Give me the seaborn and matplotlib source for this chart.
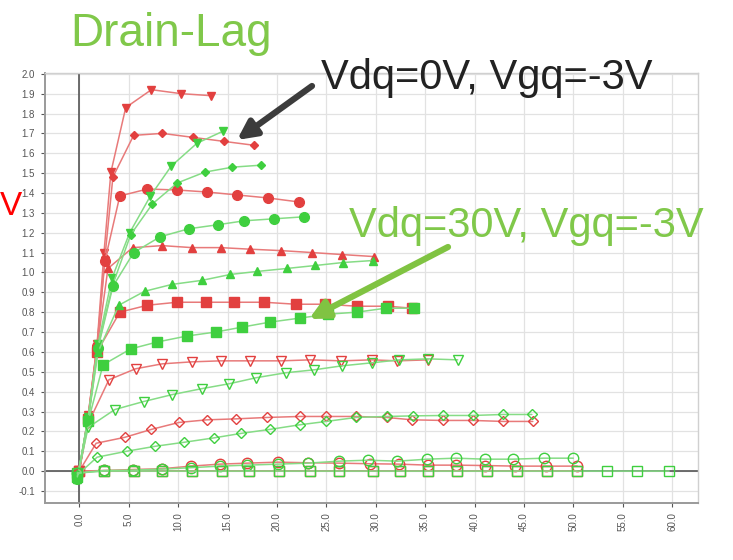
import matplotlib
matplotlib.use("Agg")
import matplotlib.pyplot as plt
import seaborn as sns

# ---- Vdq=0V, Vgq=-3V curves (red), one per gate step ----
red_vdown_x = [0.0, 0.9, 1.8, 2.5, 3.2, 4.7, 7.3, 10.3, 13.3]
red_vdown_y = [0.0, 0.28, 0.64, 1.10, 1.505, 1.83, 1.92, 1.90, 1.89]
red_diam_x = [0.0, 0.9, 1.8, 2.6, 3.4, 5.5, 8.4, 11.5, 14.6, 17.7]
red_diam_y = [0.0, 0.28, 0.63, 1.08, 1.48, 1.69, 1.70, 1.68, 1.66, 1.64]
red_circ_x = [0.0, 0.9, 1.8, 2.6, 4.1, 6.9, 9.9, 12.9, 16.0, 19.1, 22.2]
red_circ_y = [0.0, 0.27, 0.63, 1.06, 1.385, 1.42, 1.415, 1.405, 1.39, 1.375, 1.355]
red_tri_x = [0.0, 0.9, 1.8, 2.9, 5.4, 8.4, 11.4, 14.3, 17.3, 20.4, 23.6, 26.6, 29.8]
red_tri_y = [0.0, 0.27, 0.62, 1.02, 1.125, 1.135, 1.125, 1.125, 1.117, 1.11, 1.10, 1.09, 1.08]
red_sq_x = [0.0, 0.9, 1.8, 4.1, 6.9, 9.9, 12.8, 15.7, 18.7, 21.9, 24.9, 28.1, 31.2, 33.7]
red_sq_y = [0.0, 0.26, 0.60, 0.80, 0.835, 0.85, 0.85, 0.85, 0.85, 0.84, 0.84, 0.83, 0.83, 0.82]
red_ovdown_x = [0.0, 0.9, 3.0, 5.7, 8.4, 11.4, 14.3, 17.3, 20.4, 23.4, 26.5, 29.6, 32.2, 35.3]
red_ovdown_y = [0.0, 0.24, 0.46, 0.515, 0.54, 0.55, 0.555, 0.555, 0.555, 0.56, 0.555, 0.56, 0.555, 0.56]
red_odiam_x = [0.0, 1.7, 4.6, 7.3, 10.1, 12.9, 15.9, 19.0, 22.3, 25.0, 28.0, 31.1, 33.7, 36.8, 39.8, 42.9, 45.9]
red_odiam_y = [0.0, 0.14, 0.17, 0.21, 0.245, 0.258, 0.263, 0.27, 0.275, 0.275, 0.275, 0.27, 0.258, 0.255, 0.255, 0.25, 0.25]
red_ocirc_x = [0.0, 2.5, 5.4, 8.4, 11.3, 14.2, 17.0, 20.1, 23.1, 26.3, 29.4, 32.4, 35.3, 38.1, 41.1, 44.1, 47.2, 50.4]
red_ocirc_y = [0.0, 0.003, 0.008, 0.012, 0.025, 0.035, 0.04, 0.045, 0.042, 0.04, 0.037, 0.035, 0.03, 0.03, 0.028, 0.025, 0.025, 0.025]
red_osq_x = [0.0, 2.5, 5.5, 8.4, 11.4, 14.4, 17.2, 20.2, 23.4, 26.3, 29.7, 32.5, 35.3, 38.2, 41.3, 44.3, 47.3, 50.4]
red_osq_y = [0.0] * 18

# ---- Vdq=30V, Vgq=-3V curves (green) ----
grn_vdown_x = [-0.2, 0.9, 1.9, 3.3, 5.1, 7.2, 9.3, 11.9, 14.5]
grn_vdown_y = [-0.04, 0.27, 0.64, 0.97, 1.20, 1.385, 1.535, 1.65, 1.71]
grn_diam_x = [-0.2, 0.9, 1.9, 3.4, 5.2, 7.4, 9.9, 12.7, 15.5, 18.4]
grn_diam_y = [-0.04, 0.27, 0.63, 0.94, 1.19, 1.345, 1.45, 1.505, 1.53, 1.54]
grn_circ_x = [-0.2, 0.9, 1.9, 3.4, 5.5, 8.2, 11.1, 14.0, 16.7, 19.7, 22.7]
grn_circ_y = [-0.04, 0.26, 0.62, 0.93, 1.10, 1.18, 1.22, 1.24, 1.26, 1.27, 1.28]
grn_tri_x = [-0.2, 0.9, 1.9, 4.0, 6.6, 9.4, 12.4, 15.3, 18.0, 21.0, 23.9, 26.7, 29.7]
grn_tri_y = [-0.04, 0.26, 0.60, 0.835, 0.905, 0.94, 0.96, 0.99, 1.005, 1.02, 1.035, 1.05, 1.06]
grn_sq_x = [-0.2, 0.9, 2.4, 5.2, 7.9, 10.9, 13.8, 16.5, 19.3, 22.3, 25.2, 28.1, 31.0, 33.9]
grn_sq_y = [-0.03, 0.25, 0.535, 0.615, 0.65, 0.68, 0.70, 0.725, 0.75, 0.77, 0.79, 0.80, 0.82, 0.82]
grn_ovdown_x = [-0.2, 0.9, 3.6, 6.5, 9.4, 12.4, 15.2, 17.9, 20.9, 23.8, 26.6, 29.6, 32.4, 35.3, 38.3]
grn_ovdown_y = [-0.03, 0.22, 0.31, 0.35, 0.385, 0.415, 0.44, 0.47, 0.495, 0.51, 0.53, 0.545, 0.56, 0.565, 0.56]
grn_odiam_x = [-0.2, 1.8, 4.8, 7.7, 10.6, 13.6, 16.4, 19.3, 22.3, 25.0, 28.0, 31.1, 33.8, 36.8, 39.8, 42.9, 45.8]
grn_odiam_y = [-0.02, 0.07, 0.10, 0.125, 0.145, 0.167, 0.19, 0.21, 0.233, 0.25, 0.27, 0.275, 0.278, 0.28, 0.28, 0.285, 0.285]
grn_ocirc_x = [-0.2, 2.5, 5.4, 8.4, 11.3, 14.2, 17.0, 20.1, 23.1, 26.3, 29.2, 32.2, 35.2, 38.1, 41.1, 43.9, 47.0, 50.0]
grn_ocirc_y = [-0.01, 0.003, 0.005, 0.01, 0.017, 0.025, 0.03, 0.035, 0.04, 0.05, 0.055, 0.05, 0.06, 0.065, 0.06, 0.06, 0.065, 0.065]
grn_osq_x = [-0.2, 2.5, 5.5, 8.4, 11.4, 14.4, 17.2, 20.2, 23.4, 26.3, 29.7, 32.5, 35.3, 38.2, 41.3, 44.3, 47.3, 50.4, 53.4, 56.4, 59.7]
grn_osq_y = [-0.01] + [0.0] * 20

x_ticks = [0, 5, 10, 15, 20, 25, 30, 35, 40, 45, 50, 55, 60]
y_ticks = [-0.1, 0.0, 0.1, 0.2, 0.3, 0.4, 0.5, 0.6, 0.7, 0.8, 0.9, 1.0,
           1.1, 1.2, 1.3, 1.4, 1.5, 1.6, 1.7, 1.8, 1.9, 2.0]

RED, RED_LINE = "#e2403f", "#e87a7a"
GRN, GRN_LINE = "#3fcf3f", "#86dc86"
TITLE_GRN = "#80c84a"

# (x, y, marker, filled, markersize)
red_series = [
    (red_vdown_x, red_vdown_y, "v", True, 6),
    (red_diam_x, red_diam_y, "D", True, 4.5),
    (red_circ_x, red_circ_y, "o", True, 7),
    (red_tri_x, red_tri_y, "^", True, 6),
    (red_sq_x, red_sq_y, "s", True, 6.5),
    (red_ovdown_x, red_ovdown_y, "v", False, 7.5),
    (red_odiam_x, red_odiam_y, "D", False, 5.5),
    (red_ocirc_x, red_ocirc_y, "o", False, 7.5),
    (red_osq_x, red_osq_y, "s", False, 6.5),
]
grn_series = [
    (grn_vdown_x, grn_vdown_y, "v", True, 6),
    (grn_diam_x, grn_diam_y, "D", True, 4.5),
    (grn_circ_x, grn_circ_y, "o", True, 7),
    (grn_tri_x, grn_tri_y, "^", True, 6),
    (grn_sq_x, grn_sq_y, "s", True, 6.5),
    (grn_ovdown_x, grn_ovdown_y, "v", False, 7.5),
    (grn_odiam_x, grn_odiam_y, "D", False, 5.5),
    (grn_ocirc_x, grn_ocirc_y, "o", False, 7.5),
    (grn_osq_x, grn_osq_y, "s", False, 6.5),
]

sns.set_theme(style="whitegrid")
plt.rcParams["font.family"] = ["Liberation Sans", "DejaVu Sans"]

fig = plt.figure(figsize=(7.33, 5.6), dpi=100)
ax = fig.add_axes([0.061, 0.102, 0.891, 0.768])

ax.axhline(0, color="#555555", lw=1.2, zorder=1)
ax.axvline(0, color="#555555", lw=1.2, zorder=1)


def draw(series, line_col, mark_col):
    for x, y, mk, filled, ms in series:
        sns.lineplot(x=x, y=y, ax=ax, color=line_col, lw=1.1, marker=mk,
                     markersize=ms,
                     markerfacecolor=mark_col if filled else "none",
                     markeredgecolor=mark_col, markeredgewidth=1.0,
                     estimator=None, sort=False, zorder=3)


draw(red_series, RED_LINE, RED)
draw(grn_series, GRN_LINE, GRN)

ax.set_xlim(-3.5, 62.6)
ax.set_ylim(-0.16, 2.005)
ax.set_xticks(x_ticks)
ax.set_xticklabels([f"{v:.1f}" for v in x_ticks], rotation=90)
ax.set_yticks(y_ticks)
ax.set_yticklabels([f"{v:.1f}" for v in y_ticks])
ax.tick_params(labelsize=7, colors="#555555", length=3, width=0.8,
               left=True, bottom=True, pad=4)
ax.grid(True, color="#e2e2e2", lw=0.9)
ax.set_xlabel("")
ax.set_ylabel("")
for side in ["top", "right"]:
    ax.spines[side].set_color("#d0d0d0")
    ax.spines[side].set_linewidth(1)
for side in ["left", "bottom"]:
    ax.spines[side].set_color("#9a9a9a")
    ax.spines[side].set_linewidth(1.4)


def fx(px):
    return px / 733


def fy(py):
    return 1 - py / 560


fig.text(fx(70), fy(46), "Drain-Lag", color=TITLE_GRN, fontsize=33,
         va="baseline", ha="left")
fig.text(fx(0), fy(215), "V", color="#ff0000", fontsize=24,
         va="baseline", ha="left")
fig.text(fx(321), fy(89), "Vdq=0V, Vgq=-3V", color="#222222", fontsize=30,
         va="baseline", ha="left")
fig.text(fx(349), fy(237), "Vdq=30V, Vgq=-3V", color=TITLE_GRN, fontsize=30,
         va="baseline", ha="left")

ax.annotate("", xy=(fx(237), fy(140)), xycoords="figure fraction",
            xytext=(fx(312), fy(86)), textcoords="figure fraction",
            arrowprops=dict(arrowstyle="-|>", color="#3c3c3c", lw=4.5,
                            mutation_scale=28, shrinkA=0, shrinkB=0))
ax.annotate("", xy=(fx(309), fy(319)), xycoords="figure fraction",
            xytext=(fx(448), fy(247)), textcoords="figure fraction",
            arrowprops=dict(arrowstyle="-|>", color="#80c342", lw=4.5,
                            mutation_scale=28, shrinkA=0, shrinkB=0))

fig.savefig("out.png", dpi=100)
